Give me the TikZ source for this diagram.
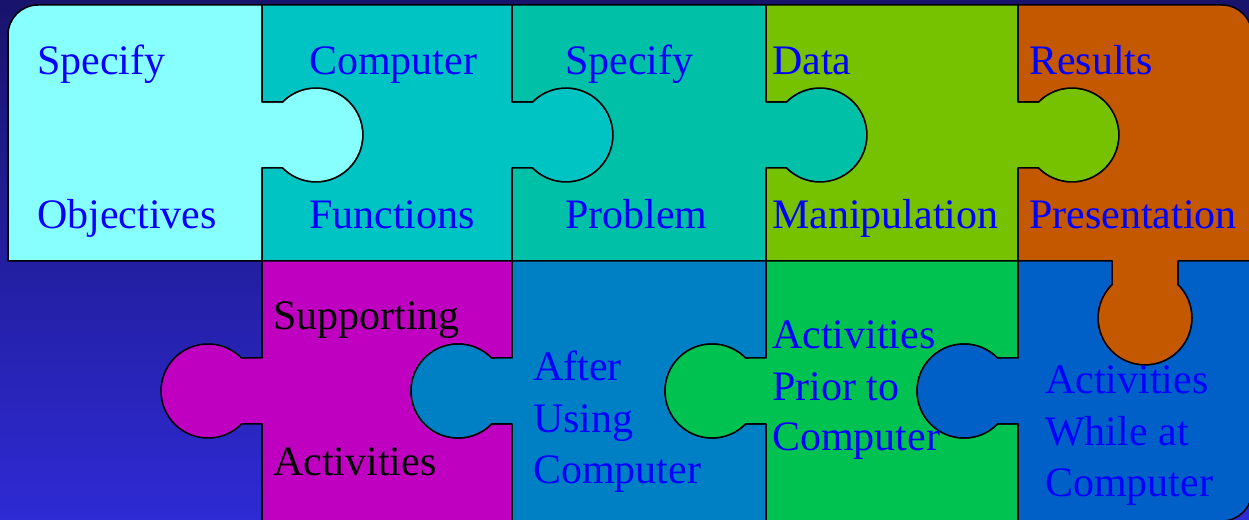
\documentclass[tikz,border=0pt]{standalone}
\usepackage{fontspec}
\setmainfont{Liberation Serif}
\definecolor{bgtop}{RGB}{24,20,108}
\definecolor{bgbot}{RGB}{46,42,212}
\definecolor{cA}{RGB}{136,255,255}
\definecolor{cB}{RGB}{0,196,196}
\definecolor{cC}{RGB}{0,192,168}
\definecolor{cD}{RGB}{118,194,0}
\definecolor{cE}{RGB}{196,88,0}
\definecolor{cF}{RGB}{192,0,192}
\definecolor{cG}{RGB}{0,128,196}
\definecolor{cH}{RGB}{0,194,80}
\definecolor{cI}{RGB}{0,96,200}
\definecolor{txtblue}{RGB}{0,0,255}
\begin{document}
\begin{tikzpicture}[x=1pt,y=1pt,
  piece/.style={draw=black,line width=1.5pt,line join=round},
  lbl/.style={anchor=base west,inner sep=0pt,font=\fontsize{42}{50}\selectfont,text=txtblue}]
\useasboundingbox (0,0) rectangle (1249,519);
\clip (0,0) rectangle (1249,519);
\shade[top color=bgtop,bottom color=bgbot] (0,0) rectangle (1249,519);
% top row
\path[piece,fill=cA] (8,258) -- (8,484) arc[start angle=180,end angle=90,radius=30] -- (262,514) -- (262,417) -- (282.5,417) arc[start angle=135.4,end angle=-135.4,radius=47] -- (262,351) -- (262,258) -- cycle;
\path[piece,fill=cB] (262,258) -- (262,351) -- (282.5,351) arc[start angle=-135.4,end angle=135.4,radius=47] -- (262,417) -- (262,514) -- (512,514) -- (512,417) -- (532.5,417) arc[start angle=135.4,end angle=-135.4,radius=47] -- (512,351) -- (512,258) -- cycle;
\path[piece,fill=cC] (512,258) -- (512,351) -- (532.5,351) arc[start angle=-135.4,end angle=135.4,radius=47] -- (512,417) -- (512,514) -- (766,514) -- (766,417) -- (786.5,417) arc[start angle=135.4,end angle=-135.4,radius=47] -- (766,351) -- (766,258) -- cycle;
\path[piece,fill=cD] (766,258) -- (766,351) -- (786.5,351) arc[start angle=-135.4,end angle=135.4,radius=47] -- (766,417) -- (766,514) -- (1018,514) -- (1018,417) -- (1038.5,417) arc[start angle=135.4,end angle=-135.4,radius=47] -- (1018,351) -- (1018,258) -- cycle;
\path[piece,fill=cE] (1018,258) -- (1018,351) -- (1038.5,351) arc[start angle=-135.4,end angle=135.4,radius=47] -- (1018,417) -- (1018,514) -- (1222,514) arc[start angle=90,end angle=0,radius=30] -- (1252,258) -- (1178,258) -- (1178,234.5) arc[start angle=45.4,end angle=-225.4,radius=47] -- (1112,258) -- cycle;
% bottom row
\path[piece,fill=cF] (262,258) -- (512,258) -- (512,161) -- (491.5,161) arc[start angle=44.6,end angle=315.4,radius=47] -- (512,95) -- (512,-2) -- (262,-2) -- (262,95) -- (241.5,95) arc[start angle=-44.6,end angle=-315.4,radius=47] -- (262,161) -- cycle;
\path[piece,fill=cG] (512,258) -- (766,258) -- (766,161) -- (745.5,161) arc[start angle=44.6,end angle=315.4,radius=47] -- (766,95) -- (766,-2) -- (512,-2) -- (512,95) -- (491.5,95) arc[start angle=-44.6,end angle=-315.4,radius=47] -- (512,161) -- cycle;
\path[piece,fill=cH] (766,258) -- (1018,258) -- (1018,161) -- (997.5,161) arc[start angle=44.6,end angle=315.4,radius=47] -- (1018,95) -- (1018,-2) -- (766,-2) -- (766,95) -- (745.5,95) arc[start angle=-44.6,end angle=-315.4,radius=47] -- (766,161) -- cycle;
\path[piece,fill=cI] (1018,258) -- (1112,258) -- (1112,234.5) arc[start angle=134.6,end angle=405.4,radius=47] -- (1178,258) -- (1252,258) -- (1252,28) arc[start angle=0,end angle=-90,radius=30] -- (1018,-2) -- (1018,95) -- (997.5,95) arc[start angle=-44.6,end angle=-315.4,radius=47] -- (1018,161) -- cycle;
% labels
\node[lbl] (t1a) at (37,444) {Specify};
\node[lbl] (t1b) at (37,290) {Objectives};
\node[lbl] (t2a) at (309,444) {Computer};
\node[lbl] (t2b) at (309,290) {Functions};
\node[lbl] (t3a) at (565,444) {Specify};
\node[lbl] (t3b) at (565,290) {Problem};
\node[lbl] (t4a) at (772,444) {Data};
\node[lbl] (t4b) at (772,290) {Manipulation};
\node[lbl] (t5a) at (1029,444) {Results};
\node[lbl] (t5b) at (1029,290) {Presentation};
\node[lbl,text=black] (t6a) at (273,189) {Supporting};
\node[lbl,text=black] (t6b) at (273,44) {Activities};
\node[lbl] (t7a) at (533,138) {After};
\node[lbl] (t7b) at (533,86) {Using};
\node[lbl] (t7c) at (533,35) {Computer};
\node[lbl] (t8a) at (772,170) {Activities};
\node[lbl] (t8b) at (772,118) {Prior to};
\node[lbl] (t8c) at (772,68) {Computer};
\node[lbl] (t9a) at (1045,125) {Activities};
\node[lbl] (t9b) at (1045,73) {While at};
\node[lbl] (t9c) at (1045,23) {Computer};
\end{tikzpicture}
\end{document}
